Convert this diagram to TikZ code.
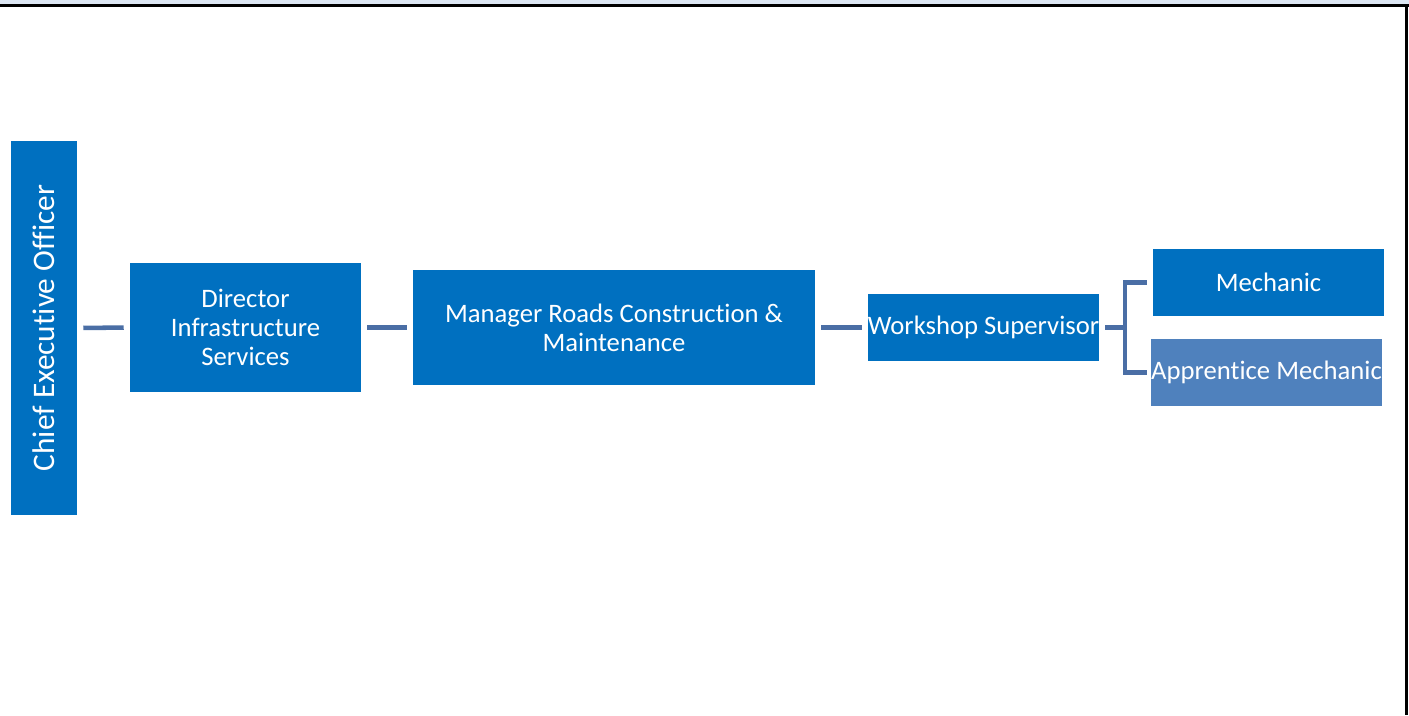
\documentclass[tikz,border=0pt]{standalone}
\usepackage{fontspec}
\setmainfont[Ligatures=NoCommon]{Carlito}
\definecolor{boxblue}{HTML}{0070C0}
\definecolor{lightbox}{HTML}{4F81BD}
\definecolor{connc}{HTML}{4A6EA5}
\definecolor{band}{HTML}{DCE6F2}
\begin{document}
\begin{tikzpicture}[x=0.75pt,y=-0.75pt,
  orgbox/.style 2 args={fill=boxblue, text=white, inner sep=0pt, align=center,
    minimum width=#1*0.75pt, minimum height=#2*0.75pt,
    font=\fontsize{20}{21.75}\selectfont},
  conn/.style={draw=connc, line width=3.4pt, shorten <=4.5pt, shorten >=4.5pt}]
\useasboundingbox (0,0) rectangle (1409,715);
\fill[band] (0,0) rectangle (1409,5);
\draw[black, line width=1.6pt] (0,5.5) -- (1409,5.5);
\draw[black, line width=2.2pt] (1406.5,5) -- (1406.5,715);
\node[orgbox={66}{374}] (ceo) at (44,328) {};
\node[rotate=90, text=white, font=\fontsize{23.5}{28}\selectfont, inner sep=0pt] (ceot) at (ceo.center) {Chief Executive Officer};
\node[orgbox={231}{129}] (dir) at (245.5,327.5) {Director\\Infrastructure\\Services};
\node[orgbox={402}{115}] (mgr) at (614,327.5) {Manager Roads Construction \&\\Maintenance};
\node[orgbox={231}{67}] (ws) at (983.5,327.5) {Workshop Supervisor};
\node[orgbox={231}{67}] (mech) at (1268.5,282.5) {Mechanic};
\node[orgbox={231}{67}, fill=lightbox] (appr) at (1266.5,372.5) {Apprentice Mechanic};
\coordinate (bj) at (1125,327.5);
\draw[conn] (ceo.east) -- (dir.west);
\draw[conn] (dir.east) -- (mgr.west);
\draw[conn] (mgr.east) -- (ws.west);
\draw[conn, shorten >=0pt] (ws.east) -- (bj);
\draw[draw=connc, line width=3.4pt, shorten <=4.5pt, shorten >=3pt] (mech.west) -| (bj) |- (appr.west);
\end{tikzpicture}
\end{document}
